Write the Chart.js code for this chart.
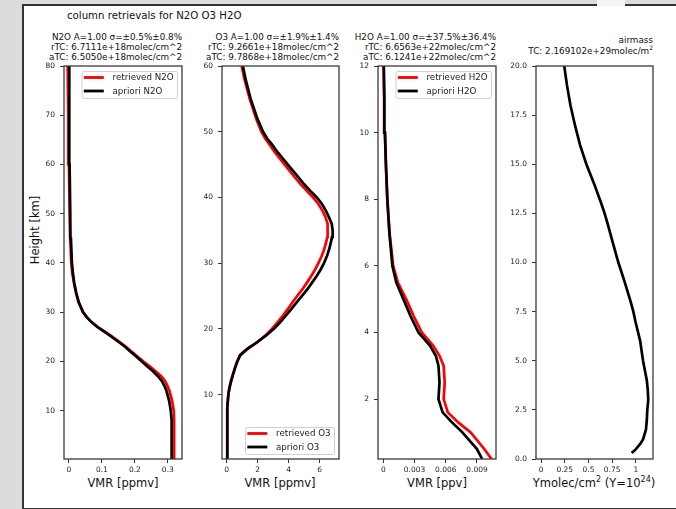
<!DOCTYPE html>
<html>
<head>
<meta charset="utf-8">
<script src="https://cdn.jsdelivr.net/npm/chart.js@4/dist/chart.umd.min.js"></script>
<style>
  html, body { margin: 0; padding: 0; }
  body { width: 676px; height: 509px; background: #dcdcdc; position: relative; overflow: hidden;
         font-family: "DejaVu Sans", sans-serif; color: #111; }
  #fig { position: absolute; left: 22px; top: 4px; width: 660px; height: 502px; background: #fff;
         border-left: 2px solid #333; border-top: 2px solid #333; border-bottom: 2px solid #333; }
  #gap { position: absolute; left: 597px; top: 0; width: 28px; height: 6px; background: #f4f4f4; }
  canvas { position: absolute; }
  .txt { position: absolute; white-space: pre; }
  .ttl { font-size: 8.8px; line-height: 10.3px; text-align: right; transform: translateX(-100%); }
  .xl { font-size: 11.5px; transform: translateX(-50%); }
</style>
</head>
<body>
<div id="fig"></div>
<div id="gap"></div>

<div class="txt" style="left:67px; top:10px; font-size:10.2px; line-height:12px;">column retrievals for N2O O3 H2O</div>

<div class="txt ttl" style="left:182px; top:31.5px;">N2O A=1.00 σ=±0.5%±0.8%
rTC: 6.7111e+18molec/cm^2
aTC: 6.5050e+18molec/cm^2</div>
<div class="txt ttl" style="left:339px; top:31.5px;">O3 A=1.00 σ=±1.9%±1.4%
rTC: 9.2661e+18molec/cm^2
aTC: 9.7868e+18molec/cm^2</div>
<div class="txt ttl" style="left:496px; top:31.5px;">H2O A=1.00 σ=±37.5%±36.4%
rTC: 6.6563e+22molec/cm^2
aTC: 6.1241e+22molec/cm^2</div>
<div class="txt ttl" style="left:653px; top:34.5px; line-height:11px;">airmass
TC: 2.169102e+29molec/m<sup style="font-size:6px; line-height:0;">2</sup></div>

<div class="txt" style="left:35px; top:230px; font-size:11.5px; transform:translate(-50%,-50%) rotate(-90deg);">Height [km]</div>

<div class="txt xl" style="left:123px; top:476px;">VMR [ppmv]</div>
<div class="txt xl" style="left:280px; top:476px;">VMR [ppmv]</div>
<div class="txt xl" style="left:437px; top:476px;">VMR [ppv]</div>
<div class="txt xl" style="left:594px; top:476px;">Ymolec/cm<sup style="font-size:8px; line-height:0;">2</sup> (Y=10<sup style="font-size:8px; line-height:0;">24</sup>)</div>

<canvas id="cN2O"></canvas>
<canvas id="cO3"></canvas>
<canvas id="cH2O"></canvas>
<canvas id="cAir"></canvas>

<script>
// ---- data (altitude in km) ----
const n2oAlt = [0.2, 1, 2, 4, 6, 8, 10, 12, 14, 15, 16, 17, 18, 19, 20, 21, 22, 23, 24, 25, 26, 27, 28, 29, 30, 32, 34, 36, 38, 40, 45, 50, 60, 70, 80];
const n2oRetrieved = [0.319, 0.319, 0.319, 0.319, 0.319, 0.319, 0.318, 0.313, 0.305, 0.299, 0.292, 0.280, 0.263, 0.245, 0.226, 0.208, 0.190, 0.173, 0.153, 0.132, 0.110, 0.088, 0.069, 0.054, 0.043, 0.029, 0.021, 0.015, 0.010, 0.007, 0.004, 0.002, 0.000, -0.002, -0.004];
const n2oApriori = [0.311, 0.311, 0.312, 0.312, 0.312, 0.311, 0.309, 0.304, 0.296, 0.290, 0.282, 0.270, 0.255, 0.238, 0.221, 0.204, 0.187, 0.170, 0.150, 0.130, 0.108, 0.086, 0.068, 0.054, 0.043, 0.030, 0.022, 0.016, 0.012, 0.009, 0.006, 0.004, 0.002, 0.001, 0.001];

const o3Alt = [0.2, 2, 4, 6, 8, 10, 11, 12, 13, 14, 15, 16, 17, 18, 19, 20, 21, 22, 23, 24, 25, 26, 27, 28, 29, 30, 31, 32, 33, 34, 35, 36, 37, 38, 39, 40, 41, 42, 43, 44, 45, 46, 47, 48, 49, 50, 52, 55, 58, 60];
const o3Retrieved = [0.03, 0.03, 0.03, 0.04, 0.06, 0.11, 0.18, 0.28, 0.40, 0.53, 0.68, 0.87, 1.38, 2.00, 2.50, 2.92, 3.28, 3.62, 3.94, 4.24, 4.55, 4.88, 5.17, 5.45, 5.70, 5.92, 6.12, 6.28, 6.40, 6.50, 6.53, 6.50, 6.38, 6.18, 5.92, 5.57, 5.17, 4.78, 4.42, 4.08, 3.74, 3.40, 3.07, 2.78, 2.48, 2.24, 1.90, 1.49, 1.15, 0.97];
const o3Apriori = [0.03, 0.03, 0.03, 0.04, 0.06, 0.11, 0.18, 0.28, 0.40, 0.53, 0.68, 0.87, 1.35, 1.98, 2.55, 3.05, 3.45, 3.82, 4.17, 4.50, 4.85, 5.20, 5.50, 5.80, 6.06, 6.28, 6.46, 6.60, 6.71, 6.80, 6.84, 6.78, 6.60, 6.40, 6.15, 5.82, 5.40, 5.00, 4.65, 4.30, 3.95, 3.60, 3.25, 2.95, 2.60, 2.35, 1.98, 1.55, 1.22, 1.05];

const h2oAlt = [0.2, 0.5, 1.0, 1.3, 1.6, 2.0, 2.5, 3.0, 3.3, 3.6, 4.0, 4.5, 5.0, 5.5, 6.0, 7.0, 8.0, 9.0, 10.0, 11.0, 12.0];
const h2oRetrieved = [0.0104, 0.0097, 0.0084, 0.0072, 0.0062, 0.0058, 0.0059, 0.0058, 0.0054, 0.0048, 0.0037, 0.0029, 0.0022, 0.0014, 0.00095, 0.0006, 0.00038, 0.00025, 0.00015, 0.00008, 0.00002];
const h2oApriori = [0.0095, 0.0090, 0.0076, 0.0066, 0.0057, 0.0053, 0.0054, 0.0053, 0.00505, 0.0045, 0.00338, 0.0026, 0.00193, 0.00125, 0.00087, 0.00058, 0.00039, 0.00026, 0.00016, 0.0001, 0.00005];

const airAlt = [0.3, 0.5, 0.8, 1.0, 1.5, 2, 2.5, 3, 3.5, 4, 5, 6, 7, 7.5, 8, 9, 10, 11, 12, 12.5, 13, 14, 15, 16, 17, 18, 19, 20];
const airMass = [0.955, 1.0, 1.05, 1.075, 1.106, 1.115, 1.12, 1.13, 1.125, 1.115, 1.075, 1.045, 0.995, 0.973, 0.945, 0.882, 0.815, 0.757, 0.70, 0.67, 0.635, 0.56, 0.478, 0.41, 0.357, 0.31, 0.274, 0.245];

// ---- ticks ----
const n2oXTicks = [0, 0.1, 0.2, 0.3];
const n2oYTicks = [10, 20, 30, 40, 50, 60, 70, 80];
const o3XTicks = [0, 2, 4, 6];
const o3YTicks = [10, 20, 30, 40, 50, 60];
const h2oXTicks = [0, 0.003, 0.006, 0.009];
const h2oYTicks = [2, 4, 6, 8, 10, 12];
const airXTicks = [0, 0.25, 0.5, 0.75, 1];
const airYTicks = [0, 2.5, 5, 7.5, 10, 12.5, 15, 17.5, 20];

Chart.defaults.font.family = "DejaVu Sans";
Chart.defaults.font.size = 7.5;
Chart.defaults.color = "#222";

const toPoints = (alt, vals) => alt.map((a, i) => ({ x: vals[i], y: a }));

// matplotlib-like box around the axes
const framePlugin = {
  id: "frame",
  afterDraw(chart) {
    const { ctx, chartArea: a } = chart;
    ctx.save();
    ctx.strokeStyle = "#3a3a3a";
    ctx.lineWidth = 1.3;
    ctx.strokeRect(a.left, a.top, a.right - a.left, a.bottom - a.top);
    ctx.restore();
  }
};

// legend drawn inside the axes, like loc="upper right"/"lower right"
const boxLegendPlugin = {
  id: "boxLegend",
  afterDraw(chart, args, opts) {
    if (!opts.where) return;
    const { ctx, chartArea: a } = chart;
    const sets = chart.data.datasets.filter((d) => d.label);
    ctx.save();
    ctx.font = "8.7px 'DejaVu Sans'";
    const tw = Math.max(...sets.map((d) => ctx.measureText(d.label).width));
    const w = 2.3 + 20 + 8.7 + tw + 3.4;
    const h = 27;
    const x = a.right - 5 - w;
    const y = opts.where === "upper" ? a.top + 5 : a.bottom - 5 - h;
    ctx.beginPath();
    ctx.roundRect(x + 0.5, y + 0.5, w, h, 2);
    ctx.fillStyle = "rgba(255,255,255,0.85)";
    ctx.fill();
    ctx.strokeStyle = "#d0d0d0";
    ctx.lineWidth = 1;
    ctx.stroke();
    sets.forEach((d, i) => {
      const cy = y + 6.5 + i * 13.5;
      ctx.strokeStyle = d.borderColor;
      ctx.lineWidth = 2.8;
      ctx.beginPath();
      ctx.moveTo(x + 2.3, cy);
      ctx.lineTo(x + 22.3, cy);
      ctx.stroke();
      ctx.fillStyle = "#222";
      ctx.textBaseline = "middle";
      ctx.fillText(d.label, x + 31, cy + 0.5);
    });
    ctx.restore();
  }
};

function makePanel(id, p) {
  const canvas = document.getElementById(id);
  const W = (p.right - p.left) + 44 + 8;
  const H = (459 - 56) + 30;
  canvas.width = W;
  canvas.height = H;
  canvas.style.left = (p.left - 44) + "px";
  canvas.style.top = "56px";

  const axisGrid = { drawOnChartArea: false, drawTicks: true, tickLength: 4, color: "#333", lineWidth: 1 };
  new Chart(canvas, {
    type: "scatter",
    data: { datasets: p.datasets },
    options: {
      responsive: false,
      animation: false,
      layout: { padding: { left: 0, top: 10, right: 8, bottom: 0 } },
      plugins: { legend: { display: false }, tooltip: { enabled: false }, boxLegend: { where: p.legend } },
      elements: { point: { radius: 0 } },
      scales: {
        x: {
          type: "linear", min: p.xMin, max: p.xMax,
          grid: axisGrid, border: { display: false },
          afterBuildTicks: (s) => { s.ticks = p.xTicks.map((v) => ({ value: v })); },
          afterFit: (s) => { s.height = 30; },
          ticks: { padding: 3, maxRotation: 0, autoSkip: false, callback: p.xFmt }
        },
        y: {
          type: "linear", min: p.yMin, max: p.yMax,
          grid: axisGrid, border: { display: false },
          afterBuildTicks: (s) => { s.ticks = p.yTicks.map((v) => ({ value: v })); },
          afterFit: (s) => { s.width = 44; },
          ticks: { padding: 5, autoSkip: false, callback: p.yFmt }
        }
      }
    },
    plugins: [framePlugin, boxLegendPlugin]
  });
}

const line = (label, color, alt, vals, order) => ({
  label, data: toPoints(alt, vals), showLine: true, borderColor: color,
  backgroundColor: color, borderWidth: 2.7, pointRadius: 0, order
});
const plain = (v) => String(v);

makePanel("cN2O", {
  left: 64, right: 182, xMin: -0.015, xMax: 0.343, yMin: 0.2, yMax: 80,
  xTicks: n2oXTicks, yTicks: n2oYTicks, xFmt: plain, yFmt: plain, legend: "upper",
  datasets: [line("retrieved N2O", "#ff0000", n2oAlt, n2oRetrieved, 1),
             line("apriori N2O", "#000000", n2oAlt, n2oApriori, 0)]
});
makePanel("cO3", {
  left: 222, right: 339, xMin: -0.3, xMax: 7.25, yMin: 0.2, yMax: 60,
  xTicks: o3XTicks, yTicks: o3YTicks, xFmt: plain, yFmt: plain, legend: "lower",
  datasets: [line("retrieved O3", "#ff0000", o3Alt, o3Retrieved, 1),
             line("apriori O3", "#000000", o3Alt, o3Apriori, 0)]
});
makePanel("cH2O", {
  left: 378, right: 496, xMin: -0.00051, xMax: 0.01083, yMin: 0.2, yMax: 12,
  xTicks: h2oXTicks, yTicks: h2oYTicks, xFmt: (v) => (v === 0 ? "0" : v.toFixed(3)), yFmt: plain, legend: "upper",
  datasets: [line("retrieved H2O", "#ff0000", h2oAlt, h2oRetrieved, 1),
             line("apriori H2O", "#000000", h2oAlt, h2oApriori, 0)]
});
makePanel("cAir", {
  left: 536, right: 653, xMin: -0.053, xMax: 1.18, yMin: 0, yMax: 20,
  xTicks: airXTicks, yTicks: airYTicks, xFmt: plain, yFmt: (v) => v.toFixed(1), legend: null,
  datasets: [line("", "#000000", airAlt, airMass, 0)]
});
</script>
</body>
</html>
